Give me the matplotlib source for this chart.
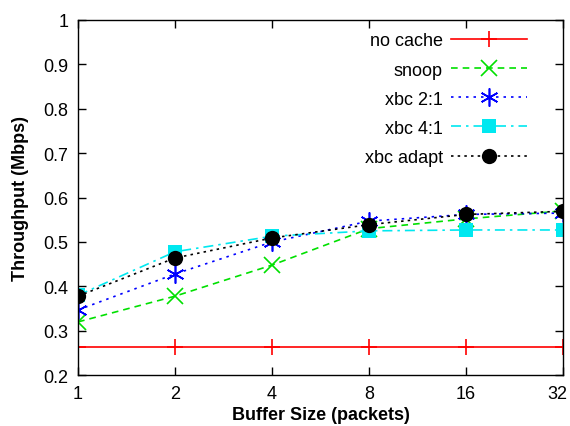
import numpy as np
import matplotlib
matplotlib.use("Agg")
import matplotlib.pyplot as plt
from matplotlib.transforms import ScaledTranslation

# === データ ===
buffer_sizes = [1, 2, 4, 8, 16, 32]
no_cache = [0.264, 0.264, 0.264, 0.264, 0.264, 0.264]
snoop = [0.320, 0.378, 0.448, 0.530, 0.552, 0.570]
xbc_2 = [0.347, 0.428, 0.500, 0.547, 0.562, 0.565]
xbc_4 = [0.380, 0.478, 0.513, 0.525, 0.527, 0.527]
xbc_adapt = [0.378, 0.464, 0.509, 0.539, 0.562, 0.569]

plt.rcParams['font.family'] = ['Liberation Sans', 'DejaVu Sans']

fig = plt.figure(figsize=(5.7, 4.27), dpi=100)
ax = fig.add_axes([0.137, 0.119, 0.851, 0.832])

ax.plot(buffer_sizes, no_cache, color='#ff0000', lw=1.2, ls='-',
        marker='+', ms=12, mew=1.2, label='no cache')
ax.plot(buffer_sizes, snoop, color='#00e000', lw=1.2, ls=(0, (4, 3)),
        marker='x', ms=11, mew=1.2, label='snoop')
ax.plot(buffer_sizes, xbc_2, color='#0000ff', lw=1.2, ls=(0, (1.5, 3)),
        marker=(6, 2, 0), ms=13, mew=1.2, label='xbc 2:1')
ax.plot(buffer_sizes, xbc_4, color='#00e8f0', lw=1.2, ls=(0, (6, 3, 1.5, 3)),
        marker='s', ms=10, mew=0, label='xbc 4:1')
ax.plot(buffer_sizes, xbc_adapt, color='black', lw=1.2, ls=(0, (1.5, 2.5)),
        marker='o', ms=11, mew=0, label='xbc adapt')

ax.set_xscale('log', base=2)
ax.set_xlim(1, 32)
ax.set_ylim(0.2, 1.0)
ax.set_xticks(buffer_sizes)
ax.set_xticklabels([str(b) for b in buffer_sizes])
ax.minorticks_off()
ax.set_yticks(np.arange(0.2, 1.01, 0.1))
ax.set_yticklabels(['0.2', '0.3', '0.4', '0.5', '0.6', '0.7', '0.8', '0.9', '1'])
ax.tick_params(direction='in', top=True, right=True, length=6, width=1,
               labelsize=13, pad=7)
for s in ax.spines.values():
    s.set_linewidth(1)

# 右端の "32" が切れないように少し左へ
last = ax.get_xticklabels()[-1]
last.set_transform(last.get_transform() + ScaledTranslation(-6 / 100, 0, fig.dpi_scale_trans))

ax.set_xlabel('Buffer Size (packets)', fontsize=13, fontweight='bold', labelpad=3)
ax.set_ylabel('Throughput (Mbps)', fontsize=13, fontweight='bold', labelpad=10)

ax.legend(loc='upper right', frameon=False, markerfirst=False, fontsize=13,
          handlelength=4.2, labelspacing=0.67, borderaxespad=0.0,
          handletextpad=0.45, bbox_to_anchor=(0.94, 0.985))

fig.savefig('out.png', dpi=100)
